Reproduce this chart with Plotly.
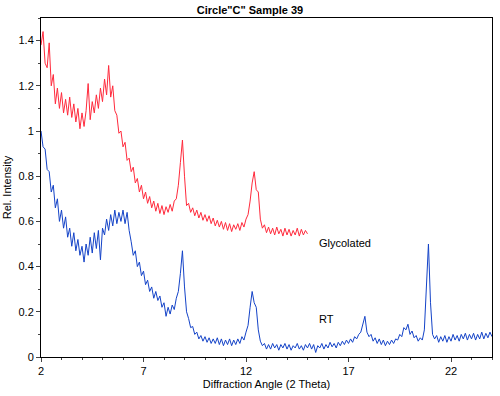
import plotly.graph_objects as go

# Diffraction angle grid: start and step (degrees 2-theta)
x_start = 2.0
x_step = 0.1

# Glycolated sample, 2.0 .. 15.0
glycolated = [
    1.38, 1.44, 1.30, 1.28, 1.39, 1.20, 1.25, 1.12, 1.19, 1.10,   # 2.0-2.9
    1.17, 1.08, 1.14, 1.07, 1.15, 1.06, 1.12, 1.04, 1.10, 1.01,   # 3.0-3.9
    1.08, 1.02, 1.09, 1.21, 1.05, 1.13, 1.08, 1.16, 1.10, 1.19,   # 4.0-4.9
    1.13, 1.23, 1.16, 1.29, 1.15, 1.20, 1.09, 1.07, 0.99, 1.00,   # 5.0-5.9
    0.93, 0.95, 0.87, 0.88, 0.82, 0.84, 0.77, 0.79, 0.73, 0.76,   # 6.0-6.9
    0.70, 0.73, 0.68, 0.71, 0.66, 0.69, 0.645, 0.68, 0.635, 0.67, # 7.0-7.9
    0.63, 0.665, 0.64, 0.675, 0.645, 0.69, 0.70, 0.76, 0.86, 0.96, # 8.0-8.9
    0.80, 0.67, 0.68, 0.64, 0.66, 0.625, 0.65, 0.615, 0.64, 0.605, # 9.0-9.9
    0.63, 0.60, 0.625, 0.59, 0.615, 0.58, 0.605, 0.575, 0.60, 0.565, # 10.0-10.9
    0.595, 0.56, 0.59, 0.555, 0.585, 0.565, 0.59, 0.56, 0.595, 0.575, # 11.0-11.9
    0.61, 0.63, 0.69, 0.77, 0.82, 0.74, 0.73, 0.61, 0.57, 0.585,  # 12.0-12.9
    0.55, 0.575, 0.545, 0.57, 0.54, 0.575, 0.545, 0.565, 0.535, 0.57, # 13.0-13.9
    0.54, 0.565, 0.535, 0.56, 0.54, 0.57, 0.535, 0.565, 0.54, 0.56,   # 14.0-14.9
    0.545,                                                         # 15.0
]

# Room temperature (RT) sample, 2.0 .. 24.0
rt = [
    1.00, 0.93, 0.92, 0.83, 0.82, 0.73, 0.76, 0.66, 0.70, 0.60,   # 2
    0.65, 0.57, 0.62, 0.53, 0.57, 0.49, 0.55, 0.47, 0.52, 0.45,   # 3
    0.49, 0.42, 0.50, 0.45, 0.53, 0.46, 0.55, 0.48, 0.56, 0.43,   # 4
    0.57, 0.54, 0.61, 0.56, 0.63, 0.58, 0.65, 0.59, 0.64, 0.60,   # 5
    0.65, 0.59, 0.64, 0.56, 0.51, 0.45, 0.47, 0.40, 0.42, 0.36,   # 6
    0.38, 0.32, 0.34, 0.29, 0.31, 0.26, 0.29, 0.25, 0.27, 0.22,   # 7
    0.24, 0.18, 0.22, 0.19, 0.23, 0.21, 0.26, 0.29, 0.37, 0.47,   # 8
    0.31, 0.20, 0.17, 0.13, 0.135, 0.10, 0.11, 0.08, 0.095, 0.07, # 9
    0.09, 0.065, 0.085, 0.06, 0.08, 0.06, 0.085, 0.055, 0.08, 0.05, # 10
    0.075, 0.055, 0.08, 0.05, 0.075, 0.055, 0.08, 0.06, 0.09, 0.075, # 11
    0.11, 0.14, 0.22, 0.29, 0.24, 0.22, 0.12, 0.07, 0.05, 0.06,   # 12
    0.035, 0.055, 0.035, 0.06, 0.04, 0.055, 0.03, 0.055, 0.04, 0.06, # 13
    0.035, 0.055, 0.03, 0.05, 0.04, 0.06, 0.035, 0.05, 0.03, 0.055,  # 14
    0.04, 0.06, 0.035, 0.055, 0.02, 0.05, 0.04, 0.06, 0.035, 0.055,  # 15
    0.04, 0.065, 0.045, 0.06, 0.04, 0.065, 0.05, 0.07, 0.055, 0.075, # 16
    0.06, 0.08, 0.065, 0.09, 0.08, 0.10, 0.11, 0.14, 0.18, 0.11,   # 17
    0.09, 0.10, 0.07, 0.085, 0.06, 0.08, 0.055, 0.075, 0.05, 0.07, # 18
    0.055, 0.075, 0.06, 0.08, 0.075, 0.10, 0.09, 0.13, 0.12, 0.145, # 19
    0.10, 0.115, 0.085, 0.095, 0.07, 0.085, 0.075, 0.12, 0.30, 0.50, # 20
    0.24, 0.10, 0.08, 0.095, 0.065, 0.09, 0.07, 0.095, 0.065, 0.09, # 21
    0.07, 0.10, 0.075, 0.095, 0.07, 0.10, 0.08, 0.105, 0.075, 0.10, # 22
    0.08, 0.105, 0.075, 0.10, 0.08, 0.11, 0.08, 0.105, 0.085, 0.11, # 23
    0.09,                                                           # 24
]

x_gly = [round(x_start + i * x_step, 2) for i in range(len(glycolated))]
x_rt = [round(x_start + i * x_step, 2) for i in range(len(rt))]

x_ticks = [2, 7, 12, 17, 22]
y_ticks = [0, 0.2, 0.4, 0.6, 0.8, 1.0, 1.2, 1.4]
y_tick_text = ["0", "0.2", "0.4", "0.6", "0.8", "1", "1.2", "1.4"]

font_family = "Liberation Sans, Arial, sans-serif"

fig = go.Figure()
fig.add_trace(go.Scatter(x=x_gly, y=glycolated, mode="lines", name="Glycolated",
                         line=dict(color="#ff2a3c", width=1)))
fig.add_trace(go.Scatter(x=x_rt, y=rt, mode="lines", name="RT",
                         line=dict(color="#1443c8", width=1)))

fig.add_annotation(x=15.45, y=0.505, text="Glycolated", showarrow=False,
                   xanchor="left", yanchor="middle",
                   font=dict(family=font_family, size=11, color="black"))
fig.add_annotation(x=15.45, y=0.17, text="RT", showarrow=False,
                   xanchor="left", yanchor="middle",
                   font=dict(family=font_family, size=11, color="black"))

fig.update_layout(
    width=500, height=396,
    margin=dict(l=38, r=7, t=18, b=39),
    paper_bgcolor="white", plot_bgcolor="white",
    showlegend=False,
    font=dict(family=font_family, size=11, color="black"),
    title=dict(text="<b>Circle\"C\" Sample 39</b>", x=0.5, xanchor="center",
               y=0.985, yanchor="top", font=dict(size=11)),
    xaxis=dict(range=[2, 24], tickvals=x_ticks, ticks="outside", ticklen=4,
               showgrid=False, zeroline=False, showline=True, linecolor="black",
               linewidth=1, mirror=True,
               minor=dict(dtick=1, tick0=2, ticks="outside", ticklen=2, showgrid=False),
               title=dict(text="Diffraction Angle (2 Theta)", standoff=4,
                          font=dict(size=11))),
    yaxis=dict(range=[0, 1.5], tickvals=y_ticks, ticktext=y_tick_text,
               ticks="outside", ticklen=4,
               showgrid=False, zeroline=False, showline=True, linecolor="black",
               linewidth=1, mirror=True,
               minor=dict(dtick=0.1, tick0=0, ticks="outside", ticklen=2, showgrid=False),
               title=dict(text="Rel. Intensity", standoff=4, font=dict(size=11))),
)

fig.write_html("out.html", config={"displayModeBar": False},
               post_script="document.body.style.margin='0';")
